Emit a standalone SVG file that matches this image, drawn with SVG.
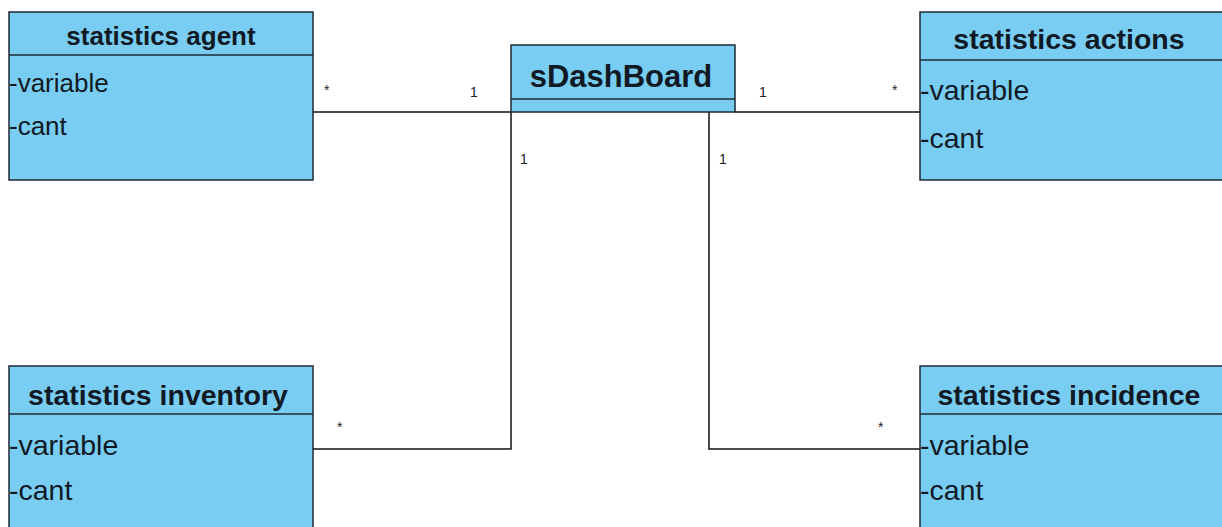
<svg xmlns="http://www.w3.org/2000/svg" width="1222" height="527" viewBox="0 0 1222 527">
<style>
.box{fill:#79cdf2;stroke:#1e2a36;stroke-width:1.5}
.div{stroke:#1e2a36;stroke-width:1.5}
.t{font-family:"Liberation Sans",Arial,sans-serif;font-weight:bold;fill:#111a24;text-anchor:middle}
.a{font-family:"Liberation Sans",Arial,sans-serif;fill:#111a24}
.m{font-family:"Liberation Sans",Arial,sans-serif;font-size:14px;fill:#222}
.c{fill:none;stroke:#111;stroke-width:1.5}
</style>
<rect width="1222" height="527" fill="#ffffff"/>
<g id="connectors">
<line class="c" x1="313" y1="112" x2="511" y2="112"/>
<line class="c" x1="735" y1="112" x2="920" y2="112"/>
<polyline class="c" points="511,112 511,449 313,449"/>
<polyline class="c" points="709,112 709,449 920,449"/>
<text class="m" x="324" y="95">*</text>
<text class="m" x="470" y="97">1</text>
<text class="m" x="759" y="97">1</text>
<text class="m" x="892" y="95">*</text>
<text class="m" x="520" y="164">1</text>
<text class="m" x="719" y="164">1</text>
<text class="m" x="337" y="432">*</text>
<text class="m" x="878" y="432">*</text>
</g>
<g id="statistics-agent">
<rect class="box" x="9" y="12" width="304" height="168"/>
<line class="div" x1="9" y1="55" x2="313" y2="55"/>
<text class="t" x="161" y="45" font-size="26">statistics agent</text>
<text class="a" x="9" y="92" font-size="26">-variable</text>
<text class="a" x="9" y="135" font-size="26">-cant</text>
</g>
<g id="sDashBoard">
<rect class="box" x="511" y="45" width="224" height="67"/>
<line class="div" x1="511" y1="99" x2="735" y2="99"/>
<text class="t" x="621" y="87" font-size="31">sDashBoard</text>
</g>
<g id="statistics-actions">
<rect class="box" x="920" y="12" width="310" height="168"/>
<line class="div" x1="920" y1="60" x2="1222" y2="60"/>
<text class="t" x="1069" y="49" font-size="28.5">statistics actions</text>
<text class="a" x="920" y="100" font-size="28.5">-variable</text>
<text class="a" x="920" y="148" font-size="28.5">-cant</text>
</g>
<g id="statistics-inventory">
<rect class="box" x="9" y="366" width="304" height="170"/>
<line class="div" x1="9" y1="414" x2="313" y2="414"/>
<text class="t" x="158" y="405" font-size="28.5">statistics inventory</text>
<text class="a" x="9" y="455" font-size="28.5">-variable</text>
<text class="a" x="9" y="500" font-size="28.5">-cant</text>
</g>
<g id="statistics-incidence">
<rect class="box" x="920" y="366" width="310" height="170"/>
<line class="div" x1="920" y1="414" x2="1222" y2="414"/>
<text class="t" x="1069" y="405" font-size="28.5">statistics incidence</text>
<text class="a" x="920" y="455" font-size="28.5">-variable</text>
<text class="a" x="920" y="500" font-size="28.5">-cant</text>
</g>
</svg>
